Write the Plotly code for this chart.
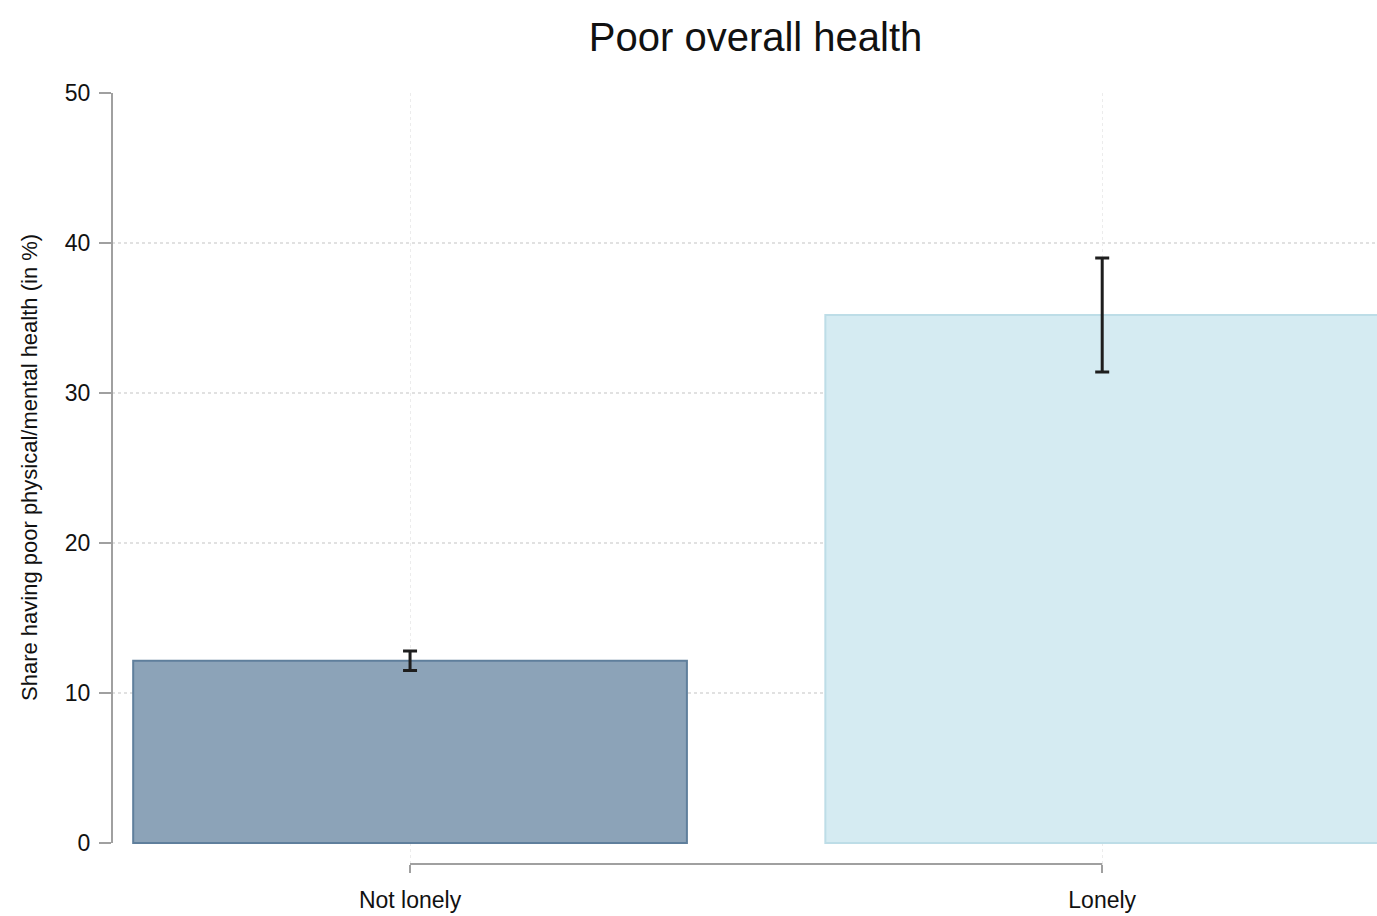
import plotly.graph_objects as go

# Share reporting poor physical/mental health by loneliness status
categories = ["Not lonely", "Lonely"]
share = [12.15, 35.2]
ci_half = [0.65, 3.8]
y_ticks = [0, 10, 20, 30, 40, 50]
y_title = "Share having poor physical/mental health (in %)"

FONT = "Liberation Sans, Arial, sans-serif"
AXIS_GRAY = "#a0a0a0"

fig = go.Figure()
fig.add_trace(go.Bar(
    x=[0, 1],
    y=share,
    width=0.8,
    marker=dict(
        color=["#8ca3b8", "#d5ebf2"],
        line=dict(color=["#5f7f9c", "#bddde7"], width=2),
    ),
    error_y=dict(type="data", array=ci_half, symmetric=True,
                 color="#1e1e1e", thickness=3, width=7),
    showlegend=False,
))

# dotted horizontal gridlines at interior ticks
for v in y_ticks[1:-1]:
    fig.add_shape(type="line", xref="paper", yref="y", x0=0, x1=1, y0=v, y1=v,
                  line=dict(color="#d8d8d8", width=1.5, dash="dot"), layer="below")

# y axis line spanning the tick range only
fig.add_shape(type="line", xref="paper", yref="y", x0=0, x1=0,
              y0=y_ticks[0], y1=y_ticks[-1],
              line=dict(color=AXIS_GRAY, width=2))
# x axis line spanning first to last category
fig.add_shape(type="line", xref="x", yref="paper", x0=0, x1=1, y0=0, y1=0,
              line=dict(color=AXIS_GRAY, width=2))

# y axis title centred on the tick range
fig.add_annotation(text=y_title, textangle=-90, showarrow=False,
                   xref="paper", x=-0.0656, xanchor="center",
                   yref="y", y=(y_ticks[0] + y_ticks[-1]) / 2, yanchor="middle",
                   font=dict(family=FONT, size=22, color="#111111"))

fig.update_layout(
    width=1377, height=916,
    margin=dict(l=112, r=0, t=93, b=52),
    paper_bgcolor="white", plot_bgcolor="white",
    font=dict(family=FONT, color="#111111"),
    title=dict(text="Poor overall health", x=0.5487, xref="container",
               xanchor="center", y=0.96, yref="container", yanchor="middle",
               font=dict(family=FONT, size=40, color="#111111")),
    xaxis=dict(
        range=[-0.4306, 1.397],
        tickvals=[0, 1], ticktext=categories,
        ticks="outside", ticklen=8, tickwidth=2, tickcolor=AXIS_GRAY,
        tickfont=dict(size=23, color="#111111"), ticklabelstandoff=7,
        showline=False, zeroline=False,
        showgrid=True, gridcolor="#ececec", griddash="dot", gridwidth=1,
    ),
    yaxis=dict(
        range=[-1.4, 50],
        tickvals=y_ticks,
        ticks="outside", ticklen=12, tickwidth=2, tickcolor=AXIS_GRAY,
        tickfont=dict(size=23, color="#111111"), ticklabelstandoff=4,
        showline=False, zeroline=False, showgrid=False,
    ),
)

fig.write_html("out.html")
